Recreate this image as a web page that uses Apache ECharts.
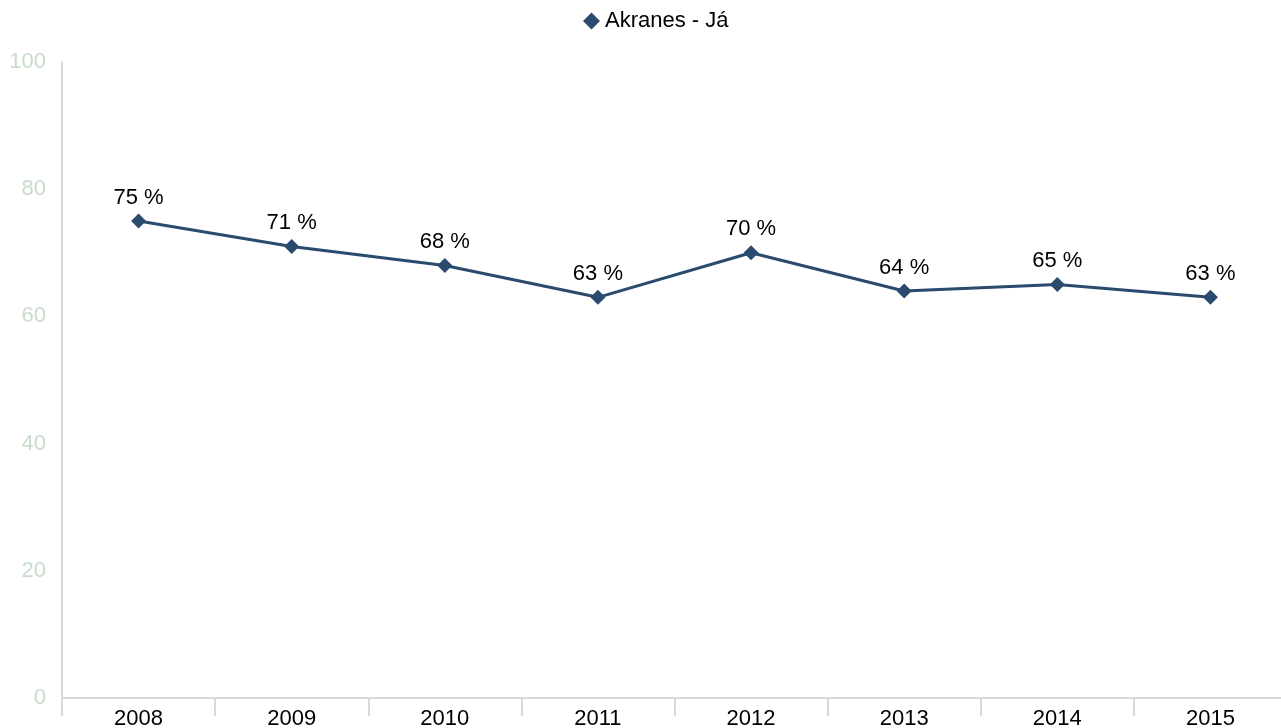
<!DOCTYPE html>
<html>
<head>
<meta charset="utf-8">
<script src="https://cdn.jsdelivr.net/npm/echarts@6/dist/echarts.min.js"></script>
<style>
  html, body { margin: 0; padding: 0; background: #fff; }
  #chart { width: 1281px; height: 728px; }
</style>
</head>
<body>
<div id="chart"></div>
<script>
const seriesName = 'Akranes - Já';
const years = ['2008', '2009', '2010', '2011', '2012', '2013', '2014', '2015'];
const values = [75, 71, 68, 63, 70, 64, 65, 63];

const FONT = 'Liberation Sans, Arial, sans-serif';

const chart = echarts.init(document.getElementById('chart'));
chart.setOption({
  animation: false,
  legend: {
    top: 5,
    left: 578,
    itemWidth: 17,
    itemHeight: 17,
    textStyle: { fontFamily: FONT, fontSize: 22, color: '#000' },
    data: [{ name: seriesName, icon: 'diamond' }]
  },
  grid: {
    left: 62, top: 62, width: 1225, height: 636,
    containLabel: false,
    outerBoundsMode: 'none'
  },
  xAxis: {
    type: 'category',
    data: years,
    boundaryGap: true,
    axisLine: { lineStyle: { color: '#d9d9d9', width: 2 } },
    axisTick: { show: true, length: 18, lineStyle: { color: '#d9d9d9', width: 2 } },
    axisLabel: { color: '#000', fontSize: 22, fontFamily: FONT, margin: 10 }
  },
  yAxis: {
    type: 'value',
    min: 0,
    max: 100,
    interval: 20,
    splitLine: { show: false },
    axisLine: { show: true, lineStyle: { color: '#d9d9d9', width: 2 } },
    axisTick: { show: false },
    axisLabel: { color: '#c9dccb', fontSize: 22, fontFamily: FONT, margin: 16 }
  },
  series: [{
    name: seriesName,
    type: 'line',
    data: values,
    symbol: 'diamond',
    symbolSize: 15,
    itemStyle: { color: '#2a4a6e' },
    lineStyle: { color: '#2a4a6e', width: 3 },
    label: {
      show: true,
      position: 'top',
      distance: 5,
      formatter: p => p.value + ' %',
      color: '#000',
      fontSize: 22,
      fontFamily: FONT
    }
  }]
});
</script>
</body>
</html>
